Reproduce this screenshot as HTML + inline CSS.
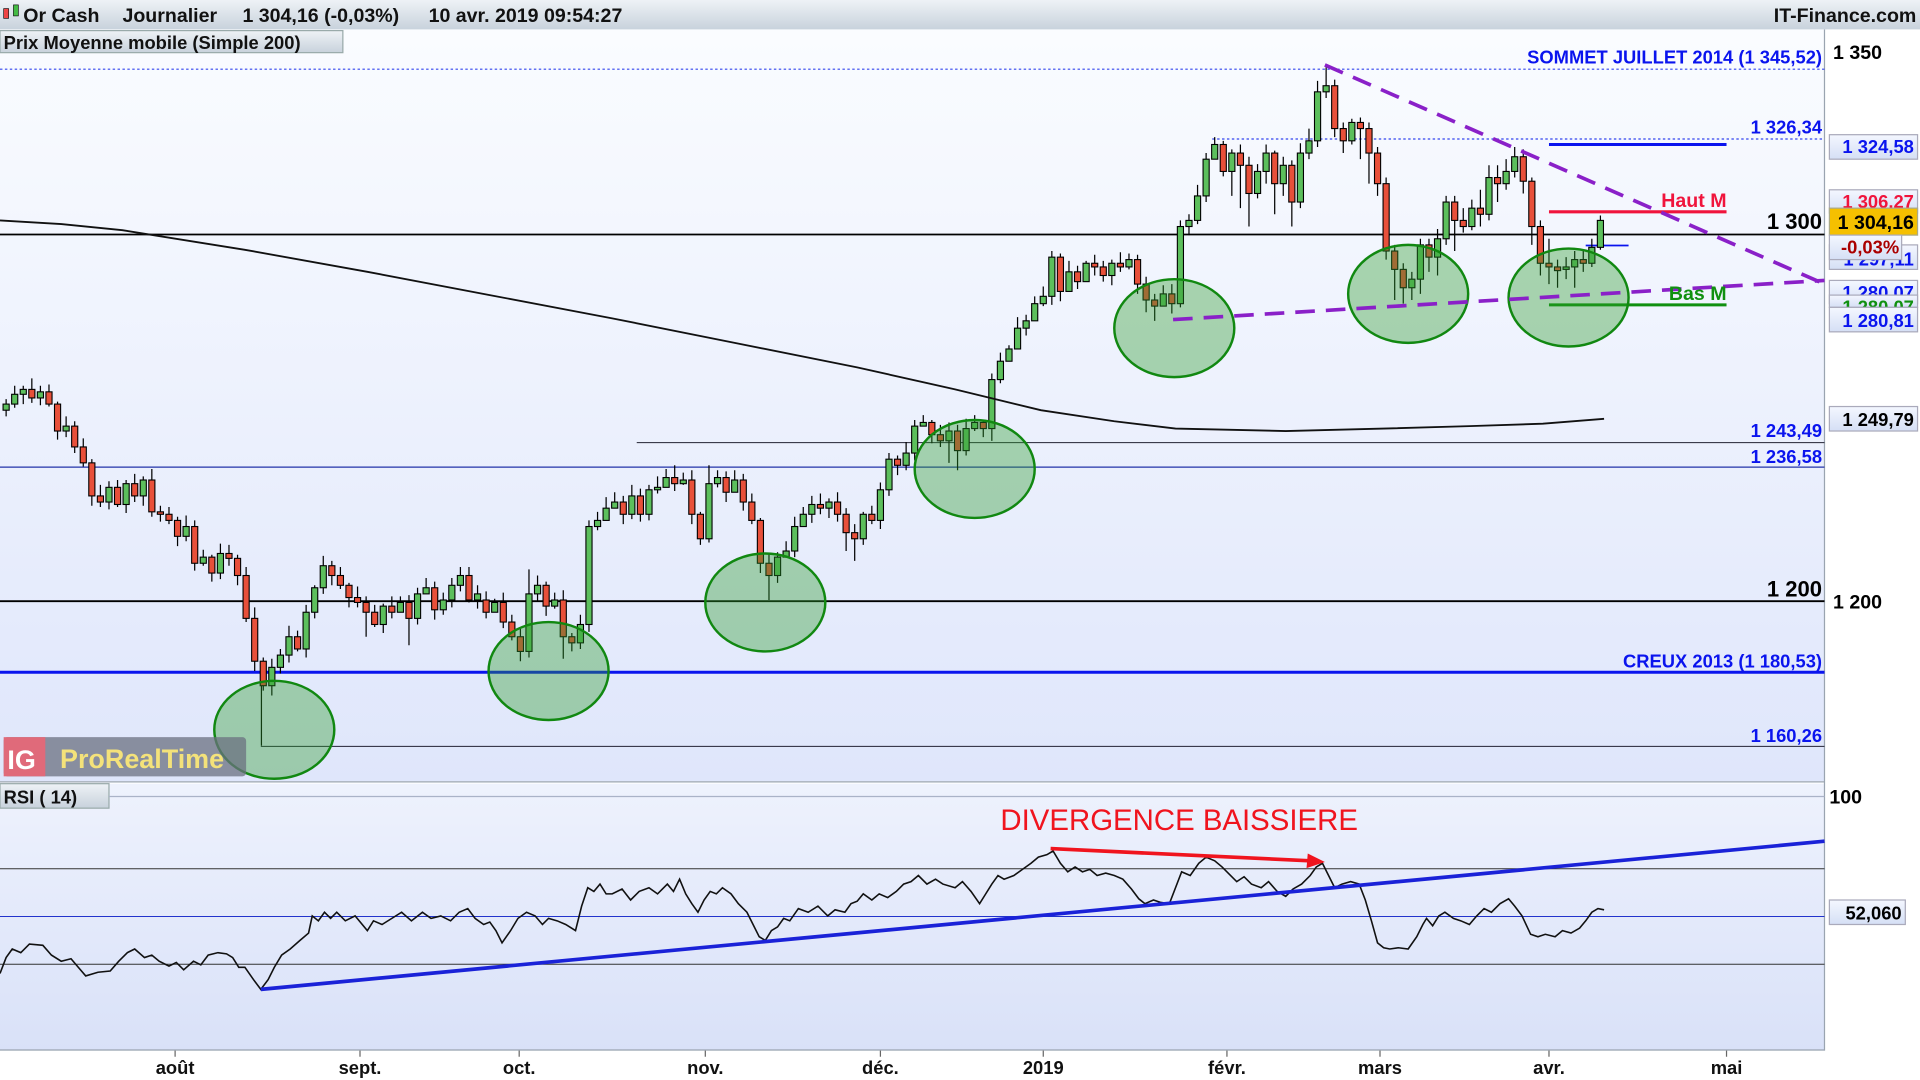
<!DOCTYPE html>
<html><head><meta charset="utf-8"><style>
html,body{margin:0;padding:0;background:#fff;overflow:hidden}
svg{display:block;font-family:"Liberation Sans",Arial,sans-serif}
.g{fill:#5cbf5c;stroke:#000;stroke-width:0.9}
.r{fill:#e8503a;stroke:#000;stroke-width:0.9}
</style></head><body>
<svg width="1920" height="1080" viewBox="0 0 1568 882" preserveAspectRatio="none" xmlns="http://www.w3.org/2000/svg">
<defs>
<linearGradient id="bg" x1="0" y1="0" x2="0" y2="1"><stop offset="0" stop-color="#fafcff"/><stop offset="1" stop-color="#dfe6fb"/></linearGradient>
<linearGradient id="bg2" x1="0" y1="0" x2="0" y2="1"><stop offset="0" stop-color="#eef2fd"/><stop offset="1" stop-color="#d9e1f8"/></linearGradient>
<linearGradient id="hdr" x1="0" y1="0" x2="0" y2="1"><stop offset="0" stop-color="#eef2f6"/><stop offset="1" stop-color="#c8d2dc"/></linearGradient>
<linearGradient id="lab" x1="0" y1="0" x2="0" y2="1"><stop offset="0" stop-color="#f4f7ff"/><stop offset="1" stop-color="#d5dff5"/></linearGradient>
</defs>
<rect width="1568" height="882" fill="#fff"/>
<rect x="0" y="24" width="1490" height="614" fill="url(#bg)"/>
<rect x="0" y="640" width="1490" height="218" fill="url(#bg2)"/>
<line x1="1490" y1="24" x2="1490" y2="858" stroke="#9aa4b0"/>
<line x1="0" y1="638.5" x2="1490" y2="638.5" stroke="#9aa4b0"/>
<line x1="0" y1="857.5" x2="1490" y2="857.5" stroke="#9aa4b0"/>
<!-- header -->
<rect x="0" y="0" width="1568" height="24" fill="url(#hdr)"/>
<g font-size="16" font-weight="bold" fill="#111">
<text x="19" y="18">Or Cash</text><text x="100" y="18">Journalier</text><text x="198" y="18">1 304,16 (-0,03%)</text><text x="350" y="18">10 avr. 2019 09:54:27</text>
<text x="1565" y="18" text-anchor="end">IT-Finance.com</text>
</g>
<rect x="3" y="7" width="4" height="8" fill="#e44" stroke="#000" stroke-width="0.5"/><rect x="11" y="4" width="4" height="9" fill="#4b4" stroke="#000" stroke-width="0.5"/>
<rect x="0" y="25" width="280" height="18" fill="url(#hdr)" stroke="#9aa"/>
<text x="3" y="40" font-size="15" font-weight="bold" fill="#111">Prix Moyenne mobile (Simple 200)</text>

<line x1="0" y1="56.5" x2="1490" y2="56.5" stroke="#3344ee" stroke-dasharray="2,2"/>
<line x1="990" y1="113.5" x2="1490" y2="113.5" stroke="#3344ee" stroke-dasharray="2,2"/>
<line x1="0" y1="191.5" x2="1490" y2="191.5" stroke="#000" stroke-width="1.5"/>
<line x1="520" y1="361.5" x2="1490" y2="361.5" stroke="#223" stroke-width="0.8"/>
<line x1="0" y1="381.5" x2="1490" y2="381.5" stroke="#2233aa" stroke-width="1"/>
<line x1="0" y1="491" x2="1490" y2="491" stroke="#000" stroke-width="1.5"/>
<line x1="0" y1="549" x2="1490" y2="549" stroke="#0a14ee" stroke-width="2.5"/>
<line x1="213" y1="609.5" x2="1490" y2="609.5" stroke="#223" stroke-width="0.8"/>
<line x1="213.5" y1="555" x2="213.5" y2="609" stroke="#000"/>
<line x1="1265" y1="118" x2="1410" y2="118" stroke="#0a14ee" stroke-width="2.5"/>
<line x1="1265" y1="173" x2="1410" y2="173" stroke="#f0143c" stroke-width="2.5"/>
<line x1="1295" y1="200.5" x2="1330" y2="200.5" stroke="#0a14ee" stroke-width="1.5"/>
<line x1="1265" y1="249" x2="1410" y2="249" stroke="#109010" stroke-width="2.5"/>

<!-- wicks -->
<path stroke="#000" stroke-width="1" fill="none" d="M5 326V340M12 315V333M19 315V330M26 309V329M33 315V331M40 314V332M47 328V359M54 340V357M61 344V370M68 358V381M75 375V413M82 396V414M89 393V416M96 392V414M103 392V419M110 387V410M117 389V413M124 383V422M131 413V426M138 414V428M145 422V446M152 421V442M159 425V466M166 449V462M173 453V475M180 444V473M187 445V462M194 453V478M201 463V508M208 496V548M215 537V564M222 538V568M229 530V550M236 511V541M243 515V532M250 494V537M257 478V505M264 454V485M271 458V478M278 463V481M285 476V496M292 479V496M299 487V520M306 494V512M313 493V517M320 487V505M327 487V497M334 486V527M341 480V510M348 472V483M355 475V506M362 484V502M369 472V496M376 463V483M383 463V492M390 478V497M397 483V505M404 489V500M411 484V513M418 502V523M425 512V540M432 465V537M439 470V491M446 475V503M453 484V497M460 482V538M467 517V532M474 502V530M481 425V516M488 418V433M495 406V419M502 402V415M509 405V428M516 396V424M523 399V426M530 396V425M537 389V403M544 383V398M551 380V401M558 386V396M565 384V428M572 418V445M579 380V443M586 384V398M593 385V410M600 384V397M607 387V417M614 403V428M621 423V468M628 452V490M635 451V476M642 442V452M649 422V455M656 414V428M663 405V427M670 403V420M677 407V423M684 402V426M691 415V450M698 428V458M705 418V445M712 413V428M719 394V432M726 370V405M733 372V388M740 361V384M747 343V376M754 339V348M761 343V362M768 347V365M775 345V378M782 347V384M789 342V372M796 339V352M803 343V357M810 305V360M817 288V313M824 282V293M831 259V272M838 257V274M845 242V254M852 234V250M859 205V249M866 207V246M873 213V227M880 217V236M887 213V222M894 208V225M901 213V230M908 212V233M915 206V222M922 207V220M929 208V240M936 226V255M943 240V262M950 233V247M957 232V256M964 180V251M971 175V192M978 151V183M985 125V165M992 112V130M999 115V144M1006 122V160M1013 118V170M1020 128V185M1027 134V162M1034 118V150M1041 123V175M1048 128V160M1055 131V185M1062 117V170M1069 105V130M1076 66V120M1083 55V80M1090 65V112M1097 100V125M1104 97V118M1111 96V130M1118 100V150M1125 120V160M1132 145V212M1139 200V245M1146 215V248M1153 222V245M1160 195V240M1167 195V222M1174 187V225M1181 160V200M1188 160V205M1195 170V190M1202 163V188M1209 155V185M1216 135V180M1223 135V165M1230 130V155M1237 120V145M1244 122V158M1251 145V200M1258 180V225M1265 195V232M1272 212V235M1279 210V228M1286 205V235M1293 205V222M1300 195V218M1307 176V204"/>
<!-- bodies -->
<g>
<rect x="2.5" y="330" width="5" height="5" class="g"/><rect x="9.5" y="322" width="5" height="8" class="g"/><rect x="16.5" y="318" width="5" height="4" class="g"/><rect x="23.5" y="318" width="5" height="7" class="r"/><rect x="30.5" y="320" width="5" height="5" class="g"/><rect x="37.5" y="320" width="5" height="10" class="r"/><rect x="44.5" y="330" width="5" height="22" class="r"/><rect x="51.5" y="348" width="5" height="4" class="g"/><rect x="58.5" y="348" width="5" height="17" class="r"/><rect x="65.5" y="365" width="5" height="13" class="r"/>
<rect x="72.5" y="378" width="5" height="27" class="r"/><rect x="79.5" y="405" width="5" height="5" class="r"/><rect x="86.5" y="398" width="5" height="12" class="g"/><rect x="93.5" y="398" width="5" height="14" class="r"/><rect x="100.5" y="395" width="5" height="17" class="g"/><rect x="107.5" y="395" width="5" height="10" class="r"/><rect x="114.5" y="392" width="5" height="13" class="g"/><rect x="121.5" y="392" width="5" height="26" class="r"/><rect x="128.5" y="418" width="5" height="2" class="r"/><rect x="135.5" y="420" width="5" height="5" class="r"/>
<rect x="142.5" y="425" width="5" height="13" class="r"/><rect x="149.5" y="430" width="5" height="8" class="g"/><rect x="156.5" y="430" width="5" height="30" class="r"/><rect x="163.5" y="455" width="5" height="5" class="g"/><rect x="170.5" y="455" width="5" height="13" class="r"/><rect x="177.5" y="452" width="5" height="16" class="g"/><rect x="184.5" y="452" width="5" height="4" class="r"/><rect x="191.5" y="456" width="5" height="14" class="r"/><rect x="198.5" y="470" width="5" height="35" class="r"/><rect x="205.5" y="505" width="5" height="35" class="r"/>
<rect x="212.5" y="540" width="5" height="20" class="r"/><rect x="219.5" y="545" width="5" height="15" class="g"/><rect x="226.5" y="535" width="5" height="10" class="g"/><rect x="233.5" y="520" width="5" height="15" class="g"/><rect x="240.5" y="520" width="5" height="10" class="r"/><rect x="247.5" y="500" width="5" height="30" class="g"/><rect x="254.5" y="480" width="5" height="20" class="g"/><rect x="261.5" y="462" width="5" height="18" class="g"/><rect x="268.5" y="462" width="5" height="8" class="r"/><rect x="275.5" y="470" width="5" height="8" class="r"/>
<rect x="282.5" y="478" width="5" height="10" class="r"/><rect x="289.5" y="488" width="5" height="4" class="r"/><rect x="296.5" y="492" width="5" height="8" class="r"/><rect x="303.5" y="500" width="5" height="10" class="r"/><rect x="310.5" y="495" width="5" height="15" class="g"/><rect x="317.5" y="495" width="5" height="5" class="r"/><rect x="324.5" y="492" width="5" height="8" class="g"/><rect x="331.5" y="492" width="5" height="13" class="r"/><rect x="338.5" y="485" width="5" height="20" class="g"/><rect x="345.5" y="480" width="5" height="5" class="g"/>
<rect x="352.5" y="480" width="5" height="18" class="r"/><rect x="359.5" y="490" width="5" height="8" class="g"/><rect x="366.5" y="478" width="5" height="12" class="g"/><rect x="373.5" y="470" width="5" height="8" class="g"/><rect x="380.5" y="470" width="5" height="20" class="r"/><rect x="387.5" y="485" width="5" height="5" class="g"/><rect x="394.5" y="490" width="5" height="10" class="r"/><rect x="401.5" y="492" width="5" height="8" class="g"/><rect x="408.5" y="492" width="5" height="16" class="r"/><rect x="415.5" y="508" width="5" height="12" class="r"/>
<rect x="422.5" y="520" width="5" height="12" class="r"/><rect x="429.5" y="485" width="5" height="47" class="g"/><rect x="436.5" y="478" width="5" height="7" class="g"/><rect x="443.5" y="478" width="5" height="17" class="r"/><rect x="450.5" y="490" width="5" height="5" class="g"/><rect x="457.5" y="490" width="5" height="30" class="r"/><rect x="464.5" y="520" width="5" height="5" class="r"/><rect x="471.5" y="510" width="5" height="15" class="g"/><rect x="478.5" y="430" width="5" height="80" class="g"/><rect x="485.5" y="425" width="5" height="5" class="g"/>
<rect x="492.5" y="415" width="5" height="10" class="g"/><rect x="499.5" y="410" width="5" height="5" class="g"/><rect x="506.5" y="410" width="5" height="10" class="r"/><rect x="513.5" y="405" width="5" height="15" class="g"/><rect x="520.5" y="405" width="5" height="15" class="r"/><rect x="527.5" y="400" width="5" height="20" class="g"/><rect x="534.5" y="398" width="5" height="2" class="g"/><rect x="541.5" y="390" width="5" height="8" class="g"/><rect x="548.5" y="390" width="5" height="5" class="r"/><rect x="555.5" y="392" width="5" height="3" class="g"/>
<rect x="562.5" y="392" width="5" height="28" class="r"/><rect x="569.5" y="420" width="5" height="20" class="r"/><rect x="576.5" y="395" width="5" height="45" class="g"/><rect x="583.5" y="390" width="5" height="5" class="g"/><rect x="590.5" y="390" width="5" height="12" class="r"/><rect x="597.5" y="392" width="5" height="10" class="g"/><rect x="604.5" y="392" width="5" height="18" class="r"/><rect x="611.5" y="410" width="5" height="15" class="r"/><rect x="618.5" y="425" width="5" height="35" class="r"/><rect x="625.5" y="460" width="5" height="10" class="r"/>
<rect x="632.5" y="455" width="5" height="15" class="g"/><rect x="639.5" y="450" width="5" height="5" class="g"/><rect x="646.5" y="430" width="5" height="20" class="g"/><rect x="653.5" y="420" width="5" height="10" class="g"/><rect x="660.5" y="412" width="5" height="8" class="g"/><rect x="667.5" y="412" width="5" height="3" class="r"/><rect x="674.5" y="410" width="5" height="5" class="g"/><rect x="681.5" y="410" width="5" height="10" class="r"/><rect x="688.5" y="420" width="5" height="15" class="r"/><rect x="695.5" y="435" width="5" height="5" class="r"/>
<rect x="702.5" y="420" width="5" height="20" class="g"/><rect x="709.5" y="420" width="5" height="5" class="r"/><rect x="716.5" y="400" width="5" height="25" class="g"/><rect x="723.5" y="375" width="5" height="25" class="g"/><rect x="730.5" y="375" width="5" height="5" class="r"/><rect x="737.5" y="370" width="5" height="10" class="g"/><rect x="744.5" y="348" width="5" height="22" class="g"/><rect x="751.5" y="345" width="5" height="3" class="g"/><rect x="758.5" y="345" width="5" height="10" class="r"/><rect x="765.5" y="355" width="5" height="5" class="r"/>
<rect x="772.5" y="352" width="5" height="8" class="g"/><rect x="779.5" y="352" width="5" height="16" class="r"/><rect x="786.5" y="350" width="5" height="18" class="g"/><rect x="793.5" y="345" width="5" height="5" class="g"/><rect x="800.5" y="345" width="5" height="5" class="r"/><rect x="807.5" y="310" width="5" height="40" class="g"/><rect x="814.5" y="295" width="5" height="15" class="g"/><rect x="821.5" y="285" width="5" height="10" class="g"/><rect x="828.5" y="268" width="5" height="17" class="g"/><rect x="835.5" y="262" width="5" height="6" class="g"/>
<rect x="842.5" y="248" width="5" height="14" class="g"/><rect x="849.5" y="242" width="5" height="6" class="g"/><rect x="856.5" y="210" width="5" height="32" class="g"/><rect x="863.5" y="210" width="5" height="28" class="r"/><rect x="870.5" y="222" width="5" height="16" class="g"/><rect x="877.5" y="222" width="5" height="8" class="r"/><rect x="884.5" y="215" width="5" height="15" class="g"/><rect x="891.5" y="215" width="5" height="3" class="r"/><rect x="898.5" y="218" width="5" height="7" class="r"/><rect x="905.5" y="215" width="5" height="10" class="g"/>
<rect x="912.5" y="215" width="5" height="3" class="r"/><rect x="919.5" y="212" width="5" height="6" class="g"/><rect x="926.5" y="212" width="5" height="20" class="r"/><rect x="933.5" y="232" width="5" height="13" class="r"/><rect x="940.5" y="245" width="5" height="5" class="r"/><rect x="947.5" y="240" width="5" height="10" class="g"/><rect x="954.5" y="240" width="5" height="8" class="r"/><rect x="961.5" y="185" width="5" height="63" class="g"/><rect x="968.5" y="180" width="5" height="5" class="g"/><rect x="975.5" y="160" width="5" height="20" class="g"/>
<rect x="982.5" y="130" width="5" height="30" class="g"/><rect x="989.5" y="118" width="5" height="12" class="g"/><rect x="996.5" y="118" width="5" height="22" class="r"/><rect x="1003.5" y="125" width="5" height="15" class="g"/><rect x="1010.5" y="125" width="5" height="10" class="r"/><rect x="1017.5" y="135" width="5" height="23" class="r"/><rect x="1024.5" y="140" width="5" height="18" class="g"/><rect x="1031.5" y="125" width="5" height="15" class="g"/><rect x="1038.5" y="125" width="5" height="25" class="r"/><rect x="1045.5" y="135" width="5" height="15" class="g"/>
<rect x="1052.5" y="135" width="5" height="30" class="r"/><rect x="1059.5" y="125" width="5" height="40" class="g"/><rect x="1066.5" y="115" width="5" height="10" class="g"/><rect x="1073.5" y="75" width="5" height="40" class="g"/><rect x="1080.5" y="70" width="5" height="5" class="g"/><rect x="1087.5" y="70" width="5" height="35" class="r"/><rect x="1094.5" y="105" width="5" height="10" class="r"/><rect x="1101.5" y="100" width="5" height="15" class="g"/><rect x="1108.5" y="100" width="5" height="5" class="r"/><rect x="1115.5" y="105" width="5" height="20" class="r"/>
<rect x="1122.5" y="125" width="5" height="25" class="r"/><rect x="1129.5" y="150" width="5" height="55" class="r"/><rect x="1136.5" y="205" width="5" height="15" class="r"/><rect x="1143.5" y="220" width="5" height="15" class="r"/><rect x="1150.5" y="228" width="5" height="7" class="g"/><rect x="1157.5" y="200" width="5" height="28" class="g"/><rect x="1164.5" y="200" width="5" height="10" class="r"/><rect x="1171.5" y="195" width="5" height="15" class="g"/><rect x="1178.5" y="165" width="5" height="30" class="g"/><rect x="1185.5" y="165" width="5" height="15" class="r"/>
<rect x="1192.5" y="180" width="5" height="5" class="r"/><rect x="1199.5" y="170" width="5" height="15" class="g"/><rect x="1206.5" y="170" width="5" height="5" class="r"/><rect x="1213.5" y="145" width="5" height="30" class="g"/><rect x="1220.5" y="145" width="5" height="5" class="r"/><rect x="1227.5" y="140" width="5" height="10" class="g"/><rect x="1234.5" y="128" width="5" height="12" class="g"/><rect x="1241.5" y="128" width="5" height="20" class="r"/><rect x="1248.5" y="148" width="5" height="37" class="r"/><rect x="1255.5" y="185" width="5" height="30" class="r"/>
<rect x="1262.5" y="215" width="5" height="3" class="r"/><rect x="1269.5" y="218" width="5" height="3" class="r"/><rect x="1276.5" y="218" width="5" height="2" class="g"/><rect x="1283.5" y="212" width="5" height="6" class="g"/><rect x="1290.5" y="212" width="5" height="3" class="r"/><rect x="1297.5" y="202" width="5" height="13" class="g"/><rect x="1304.5" y="180" width="5" height="22" class="g"/>
</g>
<path fill="none" stroke="#111" stroke-width="1.5" d="M0 180 L50 183 L100 188 L200 204 L300 222 L400 241 L500 260 L600 280 L700 300 L780 318 L850 335 L910 344 L960 350 L1050 352 L1130 350 L1200 348 L1260 346 L1310 342"/>
<g fill="#2e9a2e" fill-opacity="0.38" stroke="#118811" stroke-width="2">
<ellipse cx="224" cy="596" rx="49" ry="40"/><ellipse cx="448" cy="548" rx="49" ry="40"/>
<ellipse cx="625" cy="492" rx="49" ry="40"/><ellipse cx="796" cy="383" rx="49" ry="40"/>
<ellipse cx="959" cy="268" rx="49" ry="40"/><ellipse cx="1150" cy="240" rx="49" ry="40"/>
<ellipse cx="1281" cy="243" rx="49" ry="40"/>
</g>
<g stroke="#8a20c8" stroke-width="3" stroke-dasharray="16,9" fill="none">
<line x1="1082" y1="53" x2="1490" y2="232"/><line x1="958" y1="261" x2="1490" y2="229"/>
</g>
<g font-size="15" font-weight="bold" text-anchor="end">
<text x="1488" y="52" fill="#0a14ee">SOMMET JUILLET 2014 (1 345,52)</text>
<text x="1488" y="109" fill="#0a14ee">1 326,34</text>
<text x="1410" y="169" fill="#f0143c" font-size="16">Haut M</text>
<text x="1410" y="245" fill="#109010" font-size="16">Bas M</text>
<text x="1488" y="187" fill="#000" font-size="18">1 300</text>
<text x="1488" y="357" fill="#0a14ee">1 243,49</text>
<text x="1488" y="378" fill="#0a14ee">1 236,58</text>
<text x="1488" y="487" fill="#000" font-size="18">1 200</text>
<text x="1488" y="545" fill="#0a14ee">CREUX 2013 (1 180,53)</text>
<text x="1488" y="606" fill="#0a14ee">1 160,26</text>
</g>
<rect x="3" y="602" width="198" height="32" rx="3" fill="#6b7080" fill-opacity="0.75"/>
<rect x="3" y="602" width="34" height="32" fill="#e06a7a"/>
<text x="6" y="628" font-size="22" font-weight="bold" fill="#fff">IG</text>
<text x="49" y="627" font-size="22" font-weight="bold" fill="#f4e27a">ProRealTime</text>
<g font-size="16" font-weight="bold" fill="#000">
<text x="1497" y="48">1 350</text><text x="1497" y="497">1 200</text><text x="1494" y="656">100</text>
</g>
<g font-size="15" font-weight="bold">
<rect x="1494" y="155" width="72" height="19" fill="url(#lab)" stroke="#aab"/><text x="1563" y="170" text-anchor="end" fill="#f0143c">1 306,27</text>
<rect x="1494" y="200" width="72" height="20" fill="url(#lab)" stroke="#aab"/><text x="1563" y="217" text-anchor="end" fill="#0a14ee">1 297,11</text>
<rect x="1494" y="229" width="72" height="19" fill="url(#lab)" stroke="#aab"/><text x="1563" y="244" text-anchor="end" fill="#0a14ee">1 280,07</text>
<rect x="1494" y="241" width="72" height="10" fill="url(#lab)" stroke="#aab"/><text x="1563" y="256" text-anchor="end" fill="#109010">1 280,07</text>
<rect x="1494" y="251" width="72" height="20" fill="url(#lab)" stroke="#aab"/><text x="1563" y="267" text-anchor="end" fill="#0a14ee">1 280,81</text>
<rect x="1494" y="110" width="72" height="20" fill="url(#lab)" stroke="#aab"/><text x="1563" y="125" text-anchor="end" fill="#0a14ee">1 324,58</text>
<rect x="1494" y="170" width="72" height="22" fill="#f5c000" stroke="#aa8"/><text x="1563" y="187" text-anchor="end" fill="#000" font-size="16">1 304,16</text>
<rect x="1494" y="192" width="59" height="20" fill="url(#lab)" stroke="#aab"/><text x="1551" y="207" text-anchor="end" fill="#aa0000">-0,03%</text>
<rect x="1494" y="332" width="72" height="20" fill="url(#lab)" stroke="#aab"/><text x="1563" y="348" text-anchor="end" fill="#000">1 249,79</text>
<rect x="1494" y="735" width="62" height="20" fill="url(#lab)" stroke="#aab"/><text x="1553" y="751" text-anchor="end" fill="#000">52,060</text>
</g>
<rect x="0" y="640" width="89" height="20" fill="url(#hdr)" stroke="#9aa"/>
<text x="3" y="656" font-size="15" font-weight="bold" fill="#111">RSI ( 14)</text>
<line x1="89" y1="650.5" x2="1490" y2="650.5" stroke="#aab3c8"/>
<line x1="0" y1="709.5" x2="1490" y2="709.5" stroke="#333" stroke-width="0.8"/>
<line x1="0" y1="748.5" x2="1490" y2="748.5" stroke="#2233cc" stroke-width="0.8"/>
<line x1="0" y1="787.5" x2="1490" y2="787.5" stroke="#333" stroke-width="0.8"/>
<polyline fill="none" stroke="#111" stroke-width="1.3" points="0,795 5,782 10,775 17,778 24,771 35,772 42,780 50,785 58,783 64,790 70,797 80,794 90,793 97,785 104,778 110,775 118,782 124,780 130,785 138,789 144,786 150,792 158,785 164,788 170,780 178,778 185,779 190,782 195,790 200,790 207,800 213,808 219,800 224,790 230,780 237,775 245,768 252,762 255,748 260,752 265,745 270,750 275,745 282,752 290,748 300,760 305,752 312,755 320,750 328,745 336,752 345,745 352,750 360,748 368,752 375,745 382,742 388,750 395,755 400,753 405,760 410,770 417,760 423,750 430,745 437,748 443,755 448,750 455,752 462,755 470,760 475,740 480,725 485,728 490,722 495,730 500,730 508,726 515,735 522,728 530,725 537,730 545,722 550,728 555,718 560,730 565,738 570,745 575,735 580,728 585,730 590,725 597,730 603,738 610,745 615,755 620,765 625,768 630,760 635,757 640,750 645,752 652,742 660,745 668,740 676,748 682,743 690,745 695,738 700,736 705,730 712,735 718,730 725,733 732,728 738,722 744,720 750,715 757,722 764,718 770,722 780,725 786,720 793,728 800,738 805,730 810,722 815,715 820,718 828,715 835,710 842,705 848,700 855,698 860,695 866,705 872,712 878,708 884,712 890,710 896,715 903,713 910,715 917,718 924,726 930,734 935,738 942,735 948,737 955,738 960,725 965,712 972,715 979,705 985,700 992,703 998,708 1004,714 1010,720 1016,716 1022,722 1030,725 1036,720 1043,728 1050,732 1056,726 1063,722 1070,715 1075,708 1080,705 1085,715 1090,725 1096,722 1103,720 1110,722 1115,735 1120,752 1125,770 1130,774 1135,775 1142,774 1150,775 1157,765 1162,755 1165,750 1170,756 1175,748 1180,745 1187,750 1193,752 1200,755 1206,748 1212,742 1218,745 1225,738 1232,734 1237,740 1243,748 1250,763 1256,765 1262,763 1270,765 1276,760 1283,762 1290,758 1295,752 1300,745 1305,742 1310,743"/>
<line x1="213" y1="808" x2="1490" y2="687" stroke="#1a22d8" stroke-width="3"/>
<line x1="858" y1="693" x2="1070" y2="703" stroke="#f0141e" stroke-width="3"/>
<polygon points="1082,704 1068,697 1067,709" fill="#f0141e"/>
<text x="963" y="678" font-size="24" fill="#f0141e" text-anchor="middle">DIVERGENCE BAISSIERE</text>
<g font-size="15" font-weight="bold" fill="#111" text-anchor="middle">
<text x="143" y="877">août</text><text x="294" y="877">sept.</text><text x="424" y="877">oct.</text>
<text x="576" y="877">nov.</text><text x="719" y="877">déc.</text><text x="852" y="877">2019</text>
<text x="1002" y="877">févr.</text><text x="1127" y="877">mars</text><text x="1265" y="877">avr.</text><text x="1410" y="877">mai</text>
</g>
<g stroke="#666">
<line x1="143" y1="858" x2="143" y2="863"/><line x1="294" y1="858" x2="294" y2="863"/><line x1="424" y1="858" x2="424" y2="863"/>
<line x1="576" y1="858" x2="576" y2="863"/><line x1="719" y1="858" x2="719" y2="863"/><line x1="852" y1="858" x2="852" y2="863"/>
<line x1="1002" y1="858" x2="1002" y2="863"/><line x1="1127" y1="858" x2="1127" y2="863"/><line x1="1265" y1="858" x2="1265" y2="863"/><line x1="1410" y1="858" x2="1410" y2="863"/>
</g>
</svg>
</body></html>
